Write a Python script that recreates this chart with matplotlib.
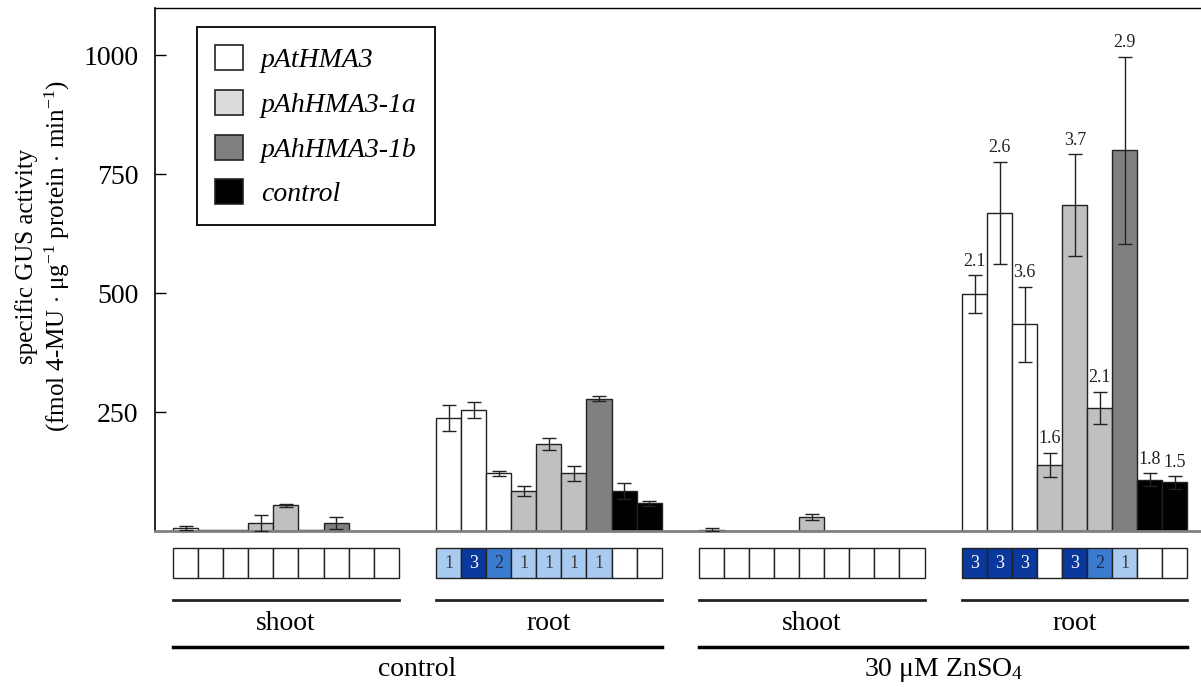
import numpy as np
import matplotlib
matplotlib.use("Agg")
import matplotlib.pyplot as plt
from matplotlib.patches import Patch, Rectangle
import matplotlib.transforms as mtransforms

plt.rcParams['font.family'] = ['Liberation Serif', 'DejaVu Serif']
plt.rcParams['mathtext.fontset'] = 'custom'
plt.rcParams['mathtext.rm'] = 'Liberation Serif'
plt.rcParams['mathtext.it'] = 'Liberation Serif:italic'

# values, 9 bars per group
ctrl_shoot = [6, 2, 2, 17, 54, 2, 17, 1, 1]
ctrl_shoot_err = [4, 0, 0, 17, 3, 0, 13, 0, 0]
ctrl_root = [238, 254, 121, 84, 183, 121, 278, 84, 58]
ctrl_root_err = [27, 17, 5, 10, 12, 16, 5, 16, 6]
zn_shoot = [3, 1, 1, 1, 30, 1, 1, 1, 1]
zn_shoot_err = [3, 0, 0, 0, 6, 0, 0, 0, 0]
zn_root = [498, 668, 434, 139, 685, 258, 800, 108, 102]
zn_root_err = [39, 108, 79, 25, 107, 34, 197, 13, 13]
zn_root_fold = ['2.1', '2.6', '3.6', '1.6', '3.7', '2.1', '2.9', '1.8', '1.5']

# staining scores in the boxes under the bars (0 = empty)
score_ctrl_shoot = [0] * 9
score_ctrl_root = [1, 3, 2, 1, 1, 1, 1, 0, 0]
score_zn_shoot = [0] * 9
score_zn_root = [3, 3, 3, 0, 3, 2, 1, 0, 0]

tissues = ['shoot', 'root', 'shoot', 'root']
treatments = ['control', r'30 $\mathrm{\mu}$M ZnSO$_4$']
series = ['pAtHMA3', 'pAhHMA3-1a', 'pAhHMA3-1b', 'control']

bar_cols = ['white', 'white', 'white', '#c0c0c0', '#c0c0c0', '#c0c0c0',
            '#808080', 'black', 'black']
leg_cols = ['white', '#dcdcdc', '#808080', 'black']
score_cols = {0: 'white', 1: '#a9cbf1', 2: '#3b7bd0', 3: '#0a389c'}
score_txt = {1: '#404040', 2: '#1c2c4c', 3: 'white'}

groups = [ctrl_shoot, ctrl_root, zn_shoot, zn_root]
errs = [ctrl_shoot_err, ctrl_root_err, zn_shoot_err, zn_root_err]
scores = [score_ctrl_shoot, score_ctrl_root, score_zn_shoot, score_zn_root]
offsets = [0, 10.5, 21, 31.5]

fig = plt.figure(figsize=(12.01, 6.87), dpi=100)
ax = fig.add_axes([155 / 1201, 156 / 687, 1046 / 1201, 523.5 / 687])

for g in range(4):
    xs = np.arange(9) + offsets[g]
    ax.bar(xs, groups[g], width=1.0, color=bar_cols, edgecolor='#222222',
           linewidth=1.0, zorder=2)
    e = np.array(errs[g])
    m = e > 0
    ax.errorbar(xs[m], np.array(groups[g])[m], yerr=e[m], fmt='none',
                ecolor='#222222', elinewidth=1.0, capsize=5, capthick=1.0,
                zorder=3)

# fold-change labels
xs4 = np.arange(9) + offsets[3]
for i in range(9):
    ax.annotate(zn_root_fold[i], (xs4[i], zn_root[i] + zn_root_err[i]),
                xytext=(0, 4), textcoords='offset points', ha='center',
                va='bottom', fontsize=13, color='#222222')

ax.set_xlim(-1.23, 40.54)
ax.set_ylim(0, 1100)
ax.set_xticks([])
ax.set_yticks([250, 500, 750, 1000])
ax.tick_params(axis='y', direction='in', length=8, width=1, pad=12,
               labelsize=20)
ax.spines['right'].set_visible(False)
ax.spines['bottom'].set_color('#808080')
ax.spines['bottom'].set_linewidth(2)
ax.spines['left'].set_linewidth(1.2)
ax.spines['top'].set_linewidth(1.0)

fig.text(27 / 1201, 1 - 256 / 687, 'specific GUS activity', rotation=90,
         ha='center', va='center', fontsize=18)
fig.text(57 / 1201, 1 - 256 / 687,
         r'(fmol 4-MU $\cdot$ $\mathrm{\mu}$g$^{-1}$ protein $\cdot$ min$^{-1}$)',
         rotation=90, ha='center', va='center', fontsize=18)

# legend
handles = [Patch(facecolor=c, edgecolor='#222222', linewidth=1.2) for c in leg_cols]
leg = ax.legend(handles, series, loc='upper left',
                bbox_to_anchor=(0.040, 0.962), borderaxespad=0,
                prop={'style': 'italic', 'size': 20}, handlelength=1.0,
                handleheight=1.0, handletextpad=0.65, labelspacing=0.6,
                borderpad=0.65, fancybox=False, framealpha=1,
                edgecolor='black')
leg.get_frame().set_linewidth(1.3)

# boxes, lines and labels below the axis
tr = mtransforms.blended_transform_factory(ax.transData, ax.transAxes)
box_lo, box_hi = -0.0904, -0.032
for g in range(4):
    for i in range(9):
        x0 = offsets[g] + i - 0.5
        s = scores[g][i]
        ax.add_patch(Rectangle((x0, box_lo), 1.0, box_hi - box_lo,
                               facecolor=score_cols[s], edgecolor='#222222',
                               linewidth=1.0, transform=tr, clip_on=False))
        if s > 0:
            ax.text(x0 + 0.5, (box_lo + box_hi) / 2, str(s), transform=tr,
                    ha='center', va='center', fontsize=13,
                    color=score_txt[s])
    left = offsets[g] - 0.5
    right = offsets[g] + 8.5
    ax.plot([left, right], [-0.1314, -0.1314], color='#222222', lw=2,
            transform=tr, clip_on=False)
    ax.text((left + right) / 2, -0.1767, tissues[g], transform=tr,
            ha='center', va='center', fontsize=20)

for t in range(2):
    left = offsets[2 * t] - 0.5
    right = offsets[2 * t + 1] + 8.5
    ax.plot([left, right], [-0.2212, -0.2212], color='black', lw=2.5,
            transform=tr, clip_on=False)
    ax.text((left + right) / 2, -0.2646, treatments[t], transform=tr,
            ha='center', va='center', fontsize=20)

fig.savefig('out.png', dpi=100)
